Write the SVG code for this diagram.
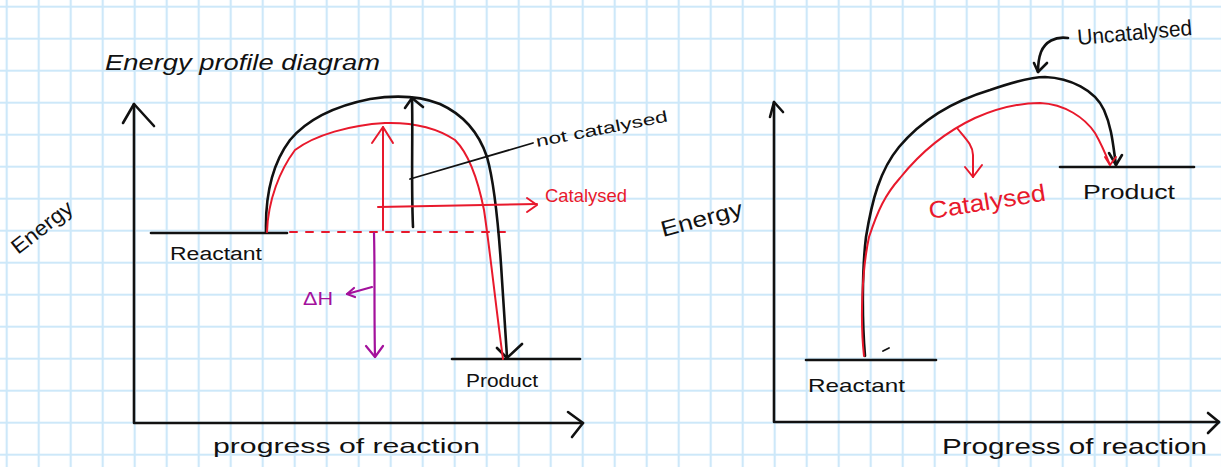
<svg xmlns="http://www.w3.org/2000/svg" width="1221" height="467" viewBox="0 0 1221 467">
<defs>
<pattern id="grid" x="-9.3" y="-9.3" width="32" height="32" patternUnits="userSpaceOnUse">
<path d="M16,0 V32 M0,16 H32" stroke="#cde8f9" stroke-width="2.2" fill="none"/>
</pattern>
<style>
.k{fill:none;stroke:#111;stroke-width:2.6;stroke-linecap:round;stroke-linejoin:round}
.kt{fill:none;stroke:#111;stroke-width:1.8;stroke-linecap:round;stroke-linejoin:round}
.r{fill:none;stroke:#e8192c;stroke-width:2;stroke-linecap:round;stroke-linejoin:round}
.p{fill:none;stroke:#a3119c;stroke-width:2.2;stroke-linecap:round;stroke-linejoin:round}
.t{font-family:"Liberation Sans","DejaVu Sans",sans-serif;fill:#111}
.tr{font-family:"Liberation Sans","DejaVu Sans",sans-serif;fill:#e8192c}
.tp{font-family:"Liberation Sans","DejaVu Sans",sans-serif;fill:#a3119c}
</style>
</defs>
<rect width="1221" height="467" fill="#ffffff"/>
<rect width="1221" height="467" fill="url(#grid)"/>

<g id="left-title"><text class="t" x="105" y="70" font-size="22" font-style="italic" textLength="275" lengthAdjust="spacingAndGlyphs">Energy profile diagram</text></g>

<g id="left-axes">
<path class="k" d="M134,104 V423 H583"/>
<path class="k" d="M123,123 L134,104 L154,126"/>
<path class="k" d="M568,412 L583,423 L572,437"/>
<text class="t" font-size="21" transform="translate(18,255) rotate(-38)" textLength="72" lengthAdjust="spacingAndGlyphs">Energy</text>
<text class="t" x="213" y="453" font-size="21" textLength="267" lengthAdjust="spacingAndGlyphs">progress of reaction</text>
</g>

<g id="left-reactant">
<path class="k" d="M151,233 H287"/>
<text class="t" x="170" y="260" font-size="18" textLength="92" lengthAdjust="spacingAndGlyphs">Reactant</text>
</g>

<g id="left-product">
<path class="k" d="M452,359 H580"/>
<text class="t" x="466" y="387" font-size="18" textLength="72" lengthAdjust="spacingAndGlyphs">Product</text>
</g>

<g id="left-connectors">
<path class="r" d="M290,232 H505" stroke-dasharray="7,9"/>
<path class="k" d="M266,232 C265,190 275,160 290,140 C310,116 340,105 370,99 C395,95 420,96 440,104 C462,114 478,130 487,157 C495,185 499,230 502,280 L507,357"/>
<path class="k" d="M497,348 L507,358 L522,344"/>
<path class="r" d="M267,232 C268,200 280,170 295,150 C315,135 350,125 385,123 C420,122 440,130 455,140 C470,155 478,180 484,210 C490,250 495,300 503,359"/>
<path class="r" d="M383,230 V127"/>
<path class="r" d="M372,143 L383,127 L393,143"/>
<path class="k" d="M413,227 C411,180 413,140 412,98"/>
<path class="k" d="M405,108 L412,98 L423,107"/>
<path class="kt" d="M410,179 L533,143"/>
<path class="r" d="M378,207 L537,204"/>
<path class="r" d="M527,198 L537,205 L527,212"/>
<path class="p" d="M374,233 C375,270 374,310 375,357"/>
<path class="p" d="M366,346 L375,357 L383,346"/>
<path class="p" d="M372,287 L347,294"/>
<path class="p" d="M354,288 L347,294 L355,297"/>
</g>

<g id="left-labels">
<text class="t" font-size="16" transform="translate(537,147) rotate(-11)" textLength="134" lengthAdjust="spacingAndGlyphs">not catalysed</text>
<text class="tr" x="545" y="202" font-size="19" textLength="82" lengthAdjust="spacingAndGlyphs">Catalysed</text>
<text class="tp" x="303" y="305" font-size="18" textLength="30" lengthAdjust="spacingAndGlyphs">ΔH</text>
</g>

<g id="right-axes">
<path class="k" d="M774,102 V422 H1219"/>
<path class="k" d="M770,117 L774,102 L783,112"/>
<path class="k" d="M1208,413 L1219,422 L1208,433"/>
<text class="t" font-size="22" transform="translate(663,237) rotate(-15)" textLength="84" lengthAdjust="spacingAndGlyphs">Energy</text>
<text class="t" x="942" y="454" font-size="22" textLength="265" lengthAdjust="spacingAndGlyphs">Progress of reaction</text>
</g>

<g id="right-reactant">
<path class="k" d="M806,360 H936"/>
<path class="kt" d="M883,351 L889,348"/>
<text class="t" x="808" y="392" font-size="19" textLength="97" lengthAdjust="spacingAndGlyphs">Reactant</text>
</g>

<g id="right-product">
<path class="k" d="M1060,167 H1194"/>
<text class="t" x="1083" y="199" font-size="20" textLength="92" lengthAdjust="spacingAndGlyphs">Product</text>
</g>

<g id="right-connectors">
<path class="k" d="M865,356 C862,320 862,270 866,237 C872,200 880,170 899,147 C920,122 950,102 990,90 C1010,83 1030,77 1045,77 C1070,78 1095,90 1104,110 C1112,128 1113,145 1116,165"/>
<path class="k" d="M1109,153 L1116,165 L1122,155"/>
<path class="r" d="M864,356 C860,320 862,270 869,237 C878,210 885,195 900,178 C920,153 945,132 975,118 C1000,107 1020,103 1040,103 C1065,104 1085,118 1095,133 C1102,145 1106,155 1110,165"/>
<path class="r" d="M1105,157 L1110,165 L1116,157"/>
<path class="r" d="M957,128 C965,138 973,145 973,155 L973,177"/>
<path class="r" d="M965,167 L973,177 L982,165"/>
<path class="k" d="M1068,38 C1055,36 1045,42 1041,52 C1038,60 1038,66 1038,72"/>
<path class="k" d="M1034,63 L1038,72 L1047,63"/>
</g>

<g id="right-labels">
<text class="tr" font-size="24" transform="translate(930,219) rotate(-9)" textLength="118" lengthAdjust="spacingAndGlyphs">Catalysed</text>
<text class="t" font-size="22" transform="translate(1078,45) rotate(-5)" textLength="115" lengthAdjust="spacingAndGlyphs">Uncatalysed</text>
</g>
</svg>
